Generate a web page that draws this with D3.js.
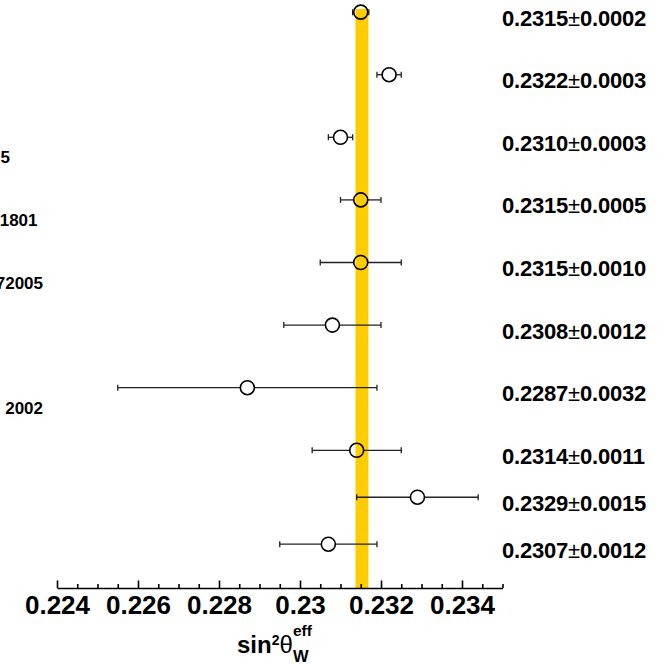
<!DOCTYPE html>
<html>
<head>
<meta charset="utf-8">
<script src="https://cdn.jsdelivr.net/npm/d3@7"></script>
<style>
  html, body { margin: 0; padding: 0; background: #fff; }
  svg { display: block; font-family: "Liberation Sans", Arial, Helvetica, sans-serif; }
</style>
</head>
<body>
<svg id="chart" width="668" height="665"></svg>
<script>
// Measurements of sin^2(theta_W^eff), top to bottom
const rows      = [10, 9, 8, 7, 6, 5, 4, 3, 2.25, 1.5];
const values    = [0.2315, 0.2322, 0.2310, 0.2315, 0.2315, 0.2308, 0.2287, 0.2314, 0.2329, 0.2307];
const errors    = [0.0002, 0.0003, 0.0003, 0.0005, 0.0010, 0.0012, 0.0032, 0.0011, 0.0015, 0.0012];
// Reference lines under the experiment names (only their tails fit on the page)
const refRows   = [8, 7, 6, 4];
const refTexts  = ["5", "1801", "72005", "2002"];
// Combined average band
const avgValue  = 0.23153;
const avgError  = 0.00016;
// Axis
const majorTicks = [0.224, 0.226, 0.228, 0.230, 0.232, 0.234];
const tickLabels = ["0.224", "0.226", "0.228", "0.23", "0.232", "0.234"];
const minorStep  = 0.0005;

const svg = d3.select("#chart");
const x = d3.scaleLinear().domain([0.224, 0.235]).range([57, 502.5]);
const y = d3.scaleLinear().domain([0.8, 10.05]).range([588, 9]);

// average band
svg.append("rect")
  .attr("x", x(avgValue - avgError))
  .attr("width", x(avgValue + avgError) - x(avgValue - avgError))
  .attr("y", y(10.05))
  .attr("height", y(0.8) - y(10.05))
  .attr("fill", "#ffcc00");

// axis
const minorTicks = d3.range(0.224, 0.2350001, minorStep).filter(v => !majorTicks.some(m => Math.abs(m - v) < 1e-9));
const axisG = svg.append("g").attr("transform", `translate(0,${y(0.8)})`);
axisG.call(d3.axisBottom(x).tickValues(majorTicks).tickSizeInner(-7.5).tickSizeOuter(0)
    .tickPadding(7.5).tickFormat((d, i) => tickLabels[i]));
axisG.append("g").call(d3.axisBottom(x).tickValues(minorTicks).tickSizeInner(-4).tickSizeOuter(0).tickFormat(""))
  .select(".domain").remove();
axisG.selectAll("path, line").attr("stroke", "#000").attr("stroke-width", 1.6);
axisG.selectAll("text")
  .attr("fill", "#000")
  .attr("font-family", "Liberation Sans, Arial, sans-serif")
  .attr("font-size", 26).attr("font-weight", "bold");

// axis title: sin^2 theta_W^eff
const title = svg.append("text").attr("x", 237).attr("y", 653)
  .attr("font-size", 24).attr("font-weight", "bold").attr("fill", "#000");
title.append("tspan").text("sin");
title.append("tspan").attr("font-size", 14).attr("dy", -8).attr("dx", 0).text("2");
title.append("tspan").attr("font-weight", "normal").attr("font-size", 24).attr("dy", 8).text("θ");
svg.append("text").attr("x", 293).attr("y", 636).attr("font-size", 15.5).attr("font-weight", "bold").text("eff");
svg.append("text").attr("x", 293).attr("y", 662).attr("font-size", 16.5).attr("font-weight", "bold").text("W");

// measurements
const pts = values.map((v, i) => ({ v, e: errors[i], r: rows[i] }));
const R = 7, cap = 3;
const g = svg.append("g");
pts.forEach(p => {
  const cx = x(p.v), cy = y(p.r), lo = x(p.v - p.e), hi = x(p.v + p.e);
  if (cx - lo > R) {
    g.append("line").attr("x1", lo).attr("x2", cx - R).attr("y1", cy).attr("y2", cy);
    g.append("line").attr("x1", lo).attr("x2", lo).attr("y1", cy - cap).attr("y2", cy + cap);
  }
  if (hi - cx > R) {
    g.append("line").attr("x1", cx + R).attr("x2", hi).attr("y1", cy).attr("y2", cy);
    g.append("line").attr("x1", hi).attr("x2", hi).attr("y1", cy - cap).attr("y2", cy + cap);
  }
  g.append("circle").attr("cx", cx).attr("cy", cy).attr("r", R)
    .attr("fill", "none").attr("stroke", "#000").attr("stroke-width", 1.6);
});
g.selectAll("line").attr("stroke", "#222").attr("stroke-width", 1.3);

// value labels
pts.forEach(p => {
  const t = svg.append("text").attr("x", 502).attr("y", y(p.r) + 13.5)
    .attr("font-size", 22).attr("font-weight", "bold").attr("fill", "#000")
    .attr("letter-spacing", -0.2);
  t.append("tspan").text(p.v.toFixed(4));
  t.append("tspan").attr("font-weight", "normal").text("±");
  t.append("tspan").text(p.e.toFixed(4));
});

// reference tails on the left
const refEnds = [10, 37.5, 43, 43];
refTexts.forEach((s, i) => {
  svg.append("text").attr("x", refEnds[i]).attr("y", y(refRows[i]) + 26)
    .attr("text-anchor", "end").attr("font-size", 17).attr("font-weight", "bold")
    .attr("fill", "#000").text(s);
});
</script>
</body>
</html>
